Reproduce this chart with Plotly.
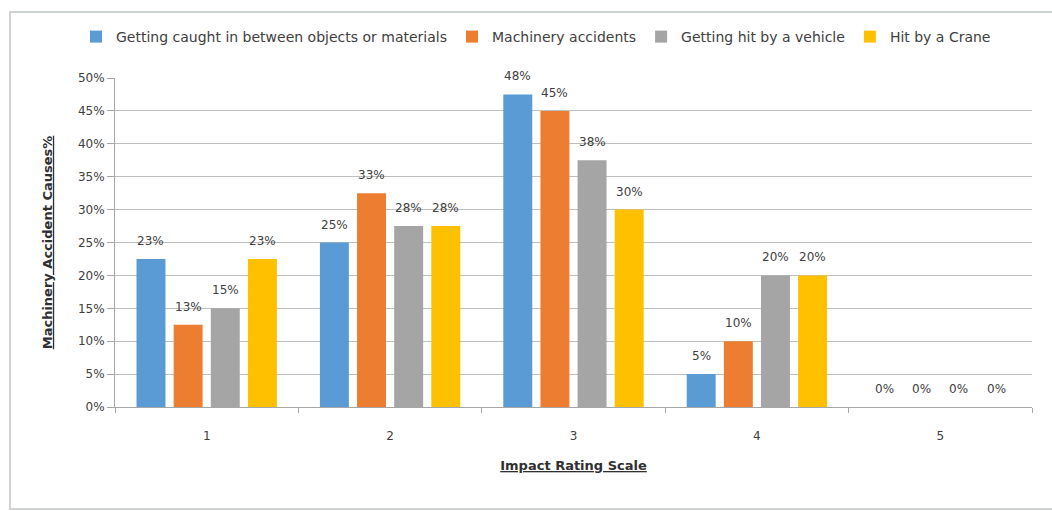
import math
import plotly.graph_objects as go

categories = ["1", "2", "3", "4", "5"]
series_names = [
    "Getting caught in between objects or materials",
    "Machinery accidents",
    "Getting hit by a vehicle",
    "Hit by a Crane",
]
caught_between = [22.5, 25.0, 47.5, 5.0, 0.0]
machinery = [12.5, 32.5, 45.0, 10.0, 0.0]
hit_vehicle = [15.0, 27.5, 37.5, 20.0, 0.0]
hit_crane = [22.5, 27.5, 30.0, 20.0, 0.0]
colors = ["#5B9BD5", "#ED7D31", "#A5A5A5", "#FFC000"]

all_series = [caught_between, machinery, hit_vehicle, hit_crane]

FONT = "DejaVu Sans"
TXT = "#404040"
BARGAP = 0.19
BARGROUPGAP = 0.22

fig = go.Figure()
for name, vals, col in zip(series_names, all_series, colors):
    fig.add_trace(go.Bar(
        x=categories, y=vals, name=name,
        marker=dict(color=col, line=dict(width=0)),
    ))

# data labels as annotations placed over each bar
n = len(all_series)
slot = (1 - BARGAP) / n
annotations = []
for i, vals in enumerate(all_series):
    off = -(1 - BARGAP) / 2 + slot * (i + 0.5)
    for j, v in enumerate(vals):
        annotations.append(dict(
            x=j + off, y=v, xref="x", yref="y",
            text=f"{math.floor(v + 0.5)}%", showarrow=False,
            yanchor="bottom", yshift=9,
            font=dict(family=FONT, size=12, color=TXT),
        ))

W, H = 1052, 511
L, R, T, B = 115, 20, 78, 104
pw, ph = W - L - R, H - T - B

fig.update_layout(
    width=W, height=H,
    margin=dict(l=L, r=R, t=T, b=B),
    paper_bgcolor="white", plot_bgcolor="white",
    barmode="group", bargap=BARGAP, bargroupgap=BARGROUPGAP,
    font=dict(family=FONT, size=12, color=TXT),
    showlegend=True,
    legend=dict(
        orientation="h", x=(536 - L) / pw, xanchor="center",
        y=1 + (T - 37) / ph, yanchor="middle",
        font=dict(family=FONT, size=14, color=TXT),
        itemwidth=30,
    ),
    xaxis=dict(
        type="category",
        showline=True, linecolor="#A6A6A6", linewidth=1,
        ticks="outside", tickson="boundaries", ticklen=5, tickcolor="#A6A6A6",
        ticklabelstandoff=18,
        tickfont=dict(family=FONT, size=12, color=TXT),
        title=dict(text="<u><b>Impact Rating Scale</b></u>",
                   font=dict(family=FONT, size=13, color="#303030"), standoff=18),
    ),
    yaxis=dict(
        range=[0, 50], dtick=5, ticksuffix="%",
        showline=True, linecolor="#A6A6A6", linewidth=1,
        ticks="outside", ticklen=7, tickcolor="#A6A6A6",
        showgrid=True, gridcolor="#BFBFBF", gridwidth=1,
        zeroline=False,
        tickfont=dict(family=FONT, size=12, color=TXT),
        title=dict(text="<u><b>Machinery Accident Causes%</b></u>",
                   font=dict(family=FONT, size=13, color="#303030"), standoff=22),
    ),
    annotations=annotations,
    shapes=[dict(
        type="rect", xref="paper", yref="paper",
        x0=(10 - L) / pw, x1=(1070 - L) / pw,
        y0=-(509 - T - ph) / ph, y1=1 + (T - 12) / ph,
        line=dict(color="#CFD3D3", width=2), layer="below",
    )],
)

fig.write_html("out.html", config={"displayModeBar": False},
               post_script="document.body.style.margin='0px';")
